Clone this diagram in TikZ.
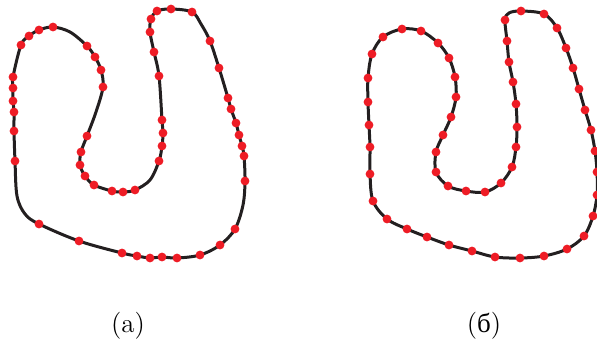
\documentclass[tikz,border=0pt]{standalone}
\usepackage{fontspec}
\newfontfamily\cyrfont{Liberation Serif}
\definecolor{curvecol}{HTML}{231F20}
\definecolor{dotcol}{HTML}{EE1C25}
\tikzset{
  curveline/.style={draw=curvecol, line width=1.5pt, line join=round},
  sampledot/.style={fill=dotcol, draw=none},
  caption/.style={font=\fontsize{13.5}{16}\selectfont, inner sep=0pt}
}
\begin{document}
\begin{tikzpicture}[x=0.5pt,y=-0.5pt]
\useasboundingbox (0,0) rectangle (597,342);
% ---- shape (a) ----
\draw[curveline] plot[smooth cycle, tension=0.55] coordinates {
(53,27) (70,32) (87,46) (95,57) (101,70) (103,87) (96,112) (87,136) (81,152) (80,165)
(85,176) (94,185) (112,191) (123,192) (135,190) (150,180) (159,161) (162,146) (163,133)
(162,120) (159,76) (154,52) (150,32) (151,19) (157,11) (171,9) (192,12) (201,24) (210,41)
(219,68) (228,98) (231,109) (236,123) (239,135) (242,146) (244,156) (245,181) (243,205)
(235,229) (220,245) (200,255) (177,258) (162,257) (150,258) (137,256) (122,253) (79,241)
(39,224) (25,214) (17,196) (15,161) (14,131) (14,112) (13,101) (13,88) (13,77) (21,45)
(29,36) (39,30)};
\foreach \p in {(53,27),(87,46),(95,57),(101,70),(103,87),(87,136),(81,152),(80,165),
(85,176),(94,185),(112,191),(123,192),(135,190),(159,161),(162,146),(163,133),
(162,120),(159,76),(154,52),(150,32),(151,19),(157,11),(171,9),(192,12),(210,41),
(219,68),(228,98),(231,109),(236,123),(239,135),(242,146),(244,156),(245,181),
(235,229),(220,245),(200,255),(177,258),(162,257),(150,258),(137,256),(122,253),(79,241),
(39,224),(15,161),(14,131),(14,112),(13,101),(13,88),(13,77),(21,45),(29,36),(39,30)}
  \fill[sampledot] \p circle (4.4);
% ---- shape (b) ----
\draw[curveline] plot[smooth cycle, tension=0.55] coordinates {
(383,37) (402,29) (421,31) (438,43) (449,58) (455,77) (456,97) (451,117) (443,135)
(436,152) (436,172) (448,186) (466,191) (485,192) (501,183) (512,167) (516,147) (517,127)
(516,104) (513,82) (509,62) (507,41) (505,20) (509,13) (521,11) (544,14) (557,28) (566,48)
(573,68) (579,89) (585,110) (591,130) (595,151) (597,172) (597,195) (593,216) (584,236)
(567,249) (544,256) (520,258) (495,257) (472,251) (449,245) (427,237) (407,229) (387,219)
(373,201) (370,174) (370,147) (369,125) (368,102) (368,78) (372,54)};
\foreach \p in {(383,37),(402,29),(421,31),(438,43),(449,58),(455,77),(456,97),(451,117),(443,135),
(436,152),(436,172),(448,186),(466,191),(485,192),(501,183),(512,167),(516,147),(517,127),
(516,104),(513,82),(509,62),(507,41),(505,20),(521,11),(544,14),(557,28),(566,48),
(573,68),(579,89),(585,110),(591,130),(595,151),(597,172),(597,195),(593,216),(584,236),
(567,249),(544,256),(520,258),(495,257),(472,251),(449,245),(427,237),(407,229),(387,219),
(373,201),(370,174),(370,147),(369,125),(368,102),(368,78),(372,54)}
  \fill[sampledot] \p circle (4.4);
% ---- captions ----
\node[caption] (capA) at (128,326) {(a)};
\node[caption] (capB) at (484,326) {({\cyrfont б})};
\end{tikzpicture}
\end{document}
